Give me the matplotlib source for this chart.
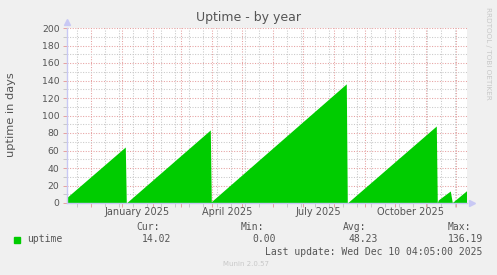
import numpy as np
import pandas as pd
import matplotlib
matplotlib.use("Agg")
from matplotlib import pyplot as plt
import matplotlib.transforms as mtransforms

# sawtooth corners (uptime in days)
uptime_dates = ['2024-11-06 05:00', '2025-01-04 00:00', '2025-01-05 00:00', '2025-03-30 00:00',
                '2025-03-31 00:00', '2025-08-13 00:00', '2025-08-14 00:00', '2025-11-11 00:00',
                '2025-11-12 00:00', '2025-11-13 00:00', '2025-11-25 00:00', '2025-11-27 00:00',
                '2025-12-11 05:00']
uptime_vals = [6.0, 64.0, 0.0, 83.5,
               1.5, 136.19, 0.0, 88.0,
               0.0, 3.5, 13.7, 0.5,
               14.02]

month_labels = ['January 2025', 'April 2025', 'July 2025', 'October 2025']
label_dates = ['2025-01-16', '2025-04-16', '2025-07-16', '2025-10-16']
yticks = list(range(0, 201, 20))

legend_name = 'uptime'
cur_val, min_val, avg_val, max_val = '14.02', '0.00', '48.23', '136.19'
last_update = 'Last update: Wed Dec 10 04:05:00 2025'

green = '#00cc00'
red_grid = '#e6a0a0'
gray_grid = '#c8c8c8'
axis_col = '#c8c8f4'
text_col = '#555555'

W, H = 497, 275
fig = plt.figure(figsize=(W / 100, H / 100), dpi=100, facecolor='#f0f0f0')
ax = fig.add_axes([66.5 / W, (H - 203) / H, 400 / W, 175 / H])
ax.set_facecolor('white')

x = pd.to_datetime(uptime_dates, format='%Y-%m-%d %H:%M')
ax.fill_between(x, uptime_vals, 0, color=green, lw=0, zorder=3)

x0 = pd.Timestamp('2024-11-06 05:00')
x1 = pd.Timestamp('2025-12-11 05:00')
ax.set_xlim(x0, x1)
ax.set_ylim(0, 200)

# grid: months in red, every two weeks in gray
months = pd.date_range('2024-12-01', '2025-12-01', freq='MS')
fortnights = pd.date_range('2024-11-17', '2025-12-10', freq='14D')
ax.set_xticks(months)
ax.set_xticks(fortnights, minor=True)
ax.set_xticklabels([])
ax.set_yticks(yticks)
ax.set_yticks(list(range(10, 200, 20)), minor=True)
ax.set_yticklabels([str(v) for v in yticks], fontsize=6.7, color=text_col)

dots = (0, (1, 1.5))
ax.grid(True, which='minor', color=gray_grid, lw=0.75, linestyle=dots, zorder=1)
ax.grid(True, which='major', color=red_grid, lw=0.75, linestyle=dots, zorder=2)
ax.set_axisbelow(True)
ax.tick_params(which='major', length=3, width=0.7, color=red_grid, pad=2)
ax.tick_params(which='minor', length=3, width=0.7, color=gray_grid)

for s in ['top', 'right']:
    ax.spines[s].set_visible(False)
for s in ['left', 'bottom']:
    ax.spines[s].set_color(axis_col)
    ax.spines[s].set_linewidth(1)
    ax.spines[s].set_zorder(4)

# axis arrows
ax.plot([0], [1.035], marker='^', color=axis_col, ms=5, transform=ax.transAxes, clip_on=False)
ax.plot([1.013], [0], marker='>', color=axis_col, ms=5, transform=ax.transAxes, clip_on=False)

trans = mtransforms.blended_transform_factory(ax.transData, ax.transAxes)
for d, lab in zip(label_dates, month_labels):
    ax.text(pd.Timestamp(d), -4 / 175, lab, transform=trans, ha='center', va='top',
            fontsize=7, color=text_col)

fig.text(10.8 / W, 1 - 115 / H, 'uptime in days', rotation=90, ha='center', va='center',
         fontsize=8.2, color=text_col)
fig.text(249 / W, 1 - 18 / H, 'Uptime - by year', ha='center', va='center',
         fontsize=9, color=text_col)
fig.text(488 / W, 1 - 53 / H, 'RRDTOOL / TOBI OETIKER', rotation=270, ha='center',
         va='center', fontsize=5.2, color='#c8c8c8')

# legend block
mono = 'DejaVu Sans Mono'
fs = 7
fig.patches.append(plt.Rectangle((14 / W, 1 - 243.3 / H), 6 / W, 6 / H,
                                 transform=fig.transFigure, color=green, figure=fig))
fig.text(26.7 / W, 1 - 239.5 / H, legend_name, family=mono, fontsize=fs,
         color=text_col, va='center', ha='left')
for lab, val, xr in [('Cur:', cur_val, 171.7), ('Min:', min_val, 275.7),
                     ('Avg:', avg_val, 378.3), ('Max:', max_val, 482.7)]:
    fig.text((xr - 12) / W, 1 - 227.3 / H, lab, family=mono, fontsize=fs,
             color=text_col, va='center', ha='right')
    fig.text(xr / W, 1 - 239.5 / H, val, family=mono, fontsize=fs,
             color=text_col, va='center', ha='right')
fig.text(482.7 / W, 1 - 251.7 / H, last_update, family=mono, fontsize=fs,
         color=text_col, va='center', ha='right')
fig.text(246 / W, 1 - 263.5 / H, 'Munin 2.0.57', fontsize=5, color='#c8c8c8',
         va='center', ha='center')

fig.savefig('out.png', dpi=100, facecolor=fig.get_facecolor())
